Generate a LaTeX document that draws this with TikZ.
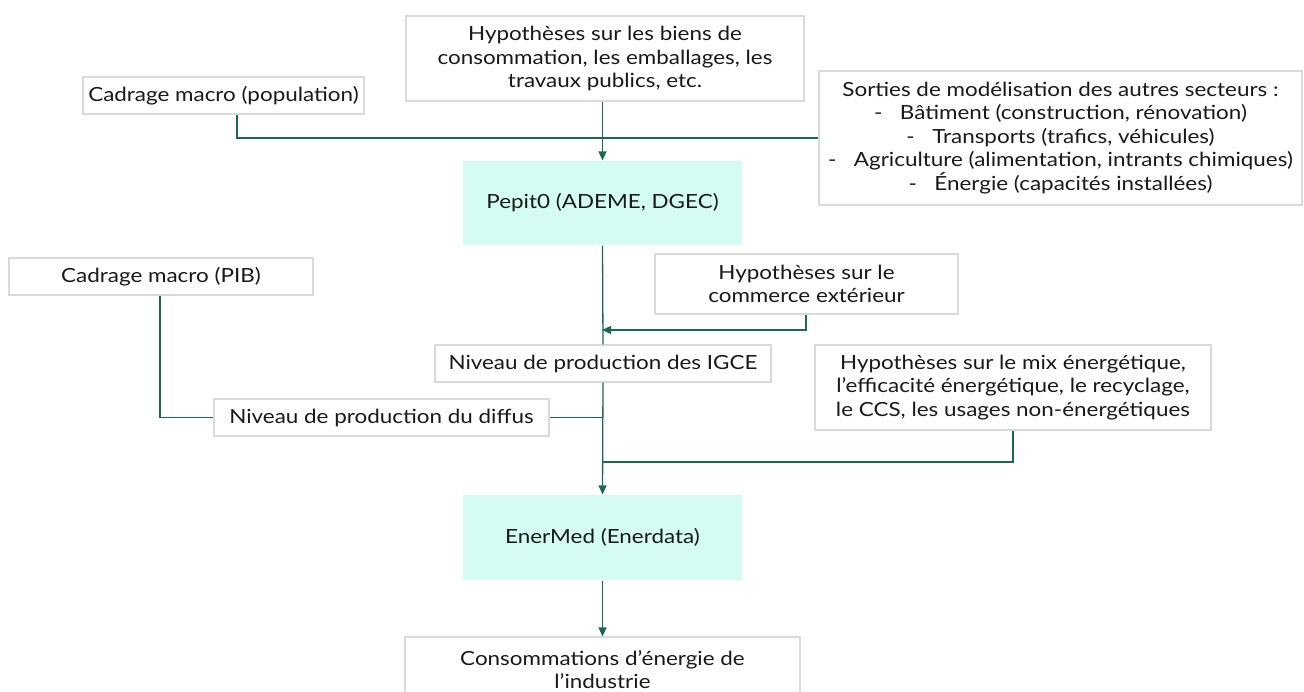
\documentclass[tikz,border=0pt]{standalone}
\usepackage{fontspec}
\setmainfont{Lato}[FakeStretch=1.15]
\usetikzlibrary{arrows.meta}
\definecolor{boxgray}{RGB}{218,218,218}
\definecolor{lineg}{RGB}{28,104,80}
\definecolor{mint}{RGB}{212,252,242}
\tikzset{
  box/.style={draw=boxgray, line width=1.2pt, fill=white, align=center, inner sep=0pt,
    font=\fontsize{19.5}{23.5}\selectfont, text=black!90},
  model/.style={box, draw=none, fill=mint},
  conn/.style={draw=lineg, line width=1.3pt},
  arr/.style={conn, -{Triangle[length=9pt,width=8pt]}}
}
\newcommand{\bx}[7][box]{%
  \node[#1, minimum width={#5-#3}, minimum height={#6-#4}] (#2) at ({(#3+#5)/2},{(#4+#6)/2}) {#7};}
\begin{document}
\begin{tikzpicture}[x=1pt,y=-1pt]
\useasboundingbox (0,0) rectangle (1304,691);
\clip (0,0) rectangle (1304,691);
\bx{biens}{406}{16}{804}{101}{Hypothèses sur les biens de\\consommation, les emballages, les\\travaux publics, etc.}
\bx{pop}{83}{77}{364}{114}{Cadrage macro (population)}
\bx{sorties}{819}{71}{1302}{205}{Sorties de modélisation des autres secteurs :\\-\hspace{0.9em}Bâtiment (construction, rénovation)\\-\hspace{0.9em}Transports (trafics, véhicules)\\-\hspace{0.9em}Agriculture (alimentation, intrants chimiques)\\-\hspace{0.9em}Énergie (capacités installées)}
\bx[model]{pepit}{463}{161}{742}{245}{Pepit0 (ADEME, DGEC)}
\bx{pib}{9}{258}{313}{295}{Cadrage macro (PIB)}
\bx{commerce}{655}{254}{958}{314}{Hypothèses sur le\\commerce extérieur}
\bx{igce}{435}{345}{771}{382}{Niveau de production des IGCE}
\bx{mix}{815}{345}{1211}{430}{Hypothèses sur le mix énergétique,\\l’efficacité énergétique, le recyclage,\\le CCS, les usages non-énergétiques}
\bx{diffus}{214}{399}{549}{436}{Niveau de production du diffus}
\bx[model]{enermed}{463}{495}{742}{580}{EnerMed (Enerdata)}
\bx{conso}{405}{637}{800}{702}{Consommations d’énergie de\\l’industrie}
% connectors
\coordinate (j1) at (602,138);
\draw[arr] (biens.south -| pepit.north) -- (pepit.north);
\draw[conn] (pop.south -| 237,0) |- (j1) -- (sorties.west |- j1);
\draw[conn] (pepit.south) -- (igce.north);
\coordinate (j2) at (602,330);
\draw[arr] (commerce.south -| 806,0) |- (j2);
\draw[arr] (igce.south) -- (enermed.north);
\draw[conn] (pib.south -| 160,0) |- (diffus.west);
\draw[conn] (diffus.east) -- (diffus.east -| igce.south);
\coordinate (j3) at (602,462);
\draw[conn] (mix.south -| 1013,0) |- (j3);
\draw[arr] (enermed.south) -- (conso.north);
\end{tikzpicture}
\end{document}
